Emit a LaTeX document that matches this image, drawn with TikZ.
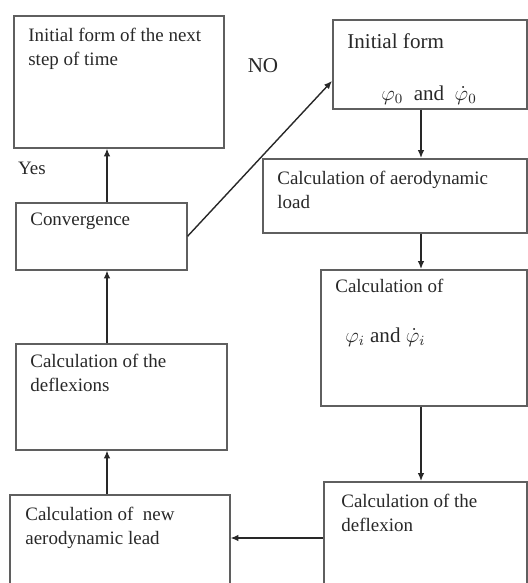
\documentclass[tikz,border=0pt]{standalone}
\usepackage{fontspec}
\setmainfont{Liberation Serif}
\usepackage{amsmath}
\usetikzlibrary{positioning,arrows.meta}
\definecolor{boxline}{RGB}{95,95,95}
\definecolor{ink}{RGB}{40,40,40}
\tikzset{
    box/.style={draw=boxline,line width=0.9pt,rectangle,inner sep=0pt,anchor=north west},
    txt/.style={anchor=north west,inner sep=0pt,align=left,text=ink,font=\fontsize{10.8}{13.6}\selectfont},
    bigtxt/.style={txt,font=\fontsize{12}{14}\selectfont},
    arr/.style={-{Latex[length=4.5pt,width=3.8pt]},line width=0.8pt,draw=ink}
}

\begin{document}
\begin{tikzpicture}[x=0.02cm,y=-0.02cm]
        \useasboundingbox (0,0) rectangle (528,583);
        % boxes
        \node[box,minimum width=4.2cm,minimum height=2.64cm] (next) at (13,15){};
        \node[box,minimum width=3.88cm,minimum height=1.78cm] (init) at (332,19){};
        \node[box,minimum width=5.28cm,minimum height=1.48cm] (aero) at (262,158){};
        \node[box,minimum width=4.12cm,minimum height=2.72cm] (phi) at (320,269){};
        \node[box,minimum width=4.06cm,minimum height=2.4cm] (defl) at (323,481){};
        \node[box,minimum width=4.4cm,minimum height=2.2cm] (newaero) at (9,494){};
        \node[box,minimum width=4.22cm,minimum height=2.12cm] (deflx) at (15,343){};
        \node[box,minimum width=3.42cm,minimum height=1.34cm] (conv) at (15,202){};
        % texts
        \node[txt] (nexttxt) at (28,28){Initial form of the next\\step of time};
        \node[bigtxt] (inittxt) at (347,33){Initial form};
        \node[bigtxt,anchor=west] (initmath) at (381,95){$\varphi_0$ \ and \ $\dot{\varphi}_0$};
        \node[txt] (aerotxt) at (277,171){Calculation of aerodynamic\\load};
        \node[txt] (phitxt) at (335,279){Calculation of};
        \node[bigtxt,anchor=west] (phimath) at (345,337){$\varphi_i$ and $\dot{\varphi}_i$};
        \node[txt] (defltxt) at (341,494){Calculation of the\\deflexion};
        \node[txt] (newaerotxt) at (25,507){Calculation of \ new\\aerodynamic lead};
        \node[txt] (deflxtxt) at (30,354){Calculation of the\\deflexions};
        \node[txt] (convtxt) at (30,213){Convergence};
        \node[txt,anchor=center] (yes) at (32,168){Yes};
        \node[bigtxt,anchor=center] (no) at (263,66){NO};
        % arrows
        \coordinate (lx) at (107,0);
        \coordinate (rx) at (421,0);
        \coordinate (hy) at (0,538);
        \coordinate (ny) at (0,81);
        \draw[arr] (conv.north -| lx) -- (next.south -| lx);
        \draw[arr] (deflx.north -| lx) -- (conv.south -| lx);
        \draw[arr] (newaero.north -| lx) -- (deflx.south -| lx);
        \draw[arr] (init.south -| rx) -- (aero.north -| rx);
        \draw[arr] (aero.south -| rx) -- (phi.north -| rx);
        \draw[arr] (phi.south -| rx) -- (defl.north -| rx);
        \draw[arr] (defl.west |- hy) -- (newaero.east |- hy);
        \draw[arr] (conv.east) -- (init.west |- ny);
\end{tikzpicture}
\end{document}
